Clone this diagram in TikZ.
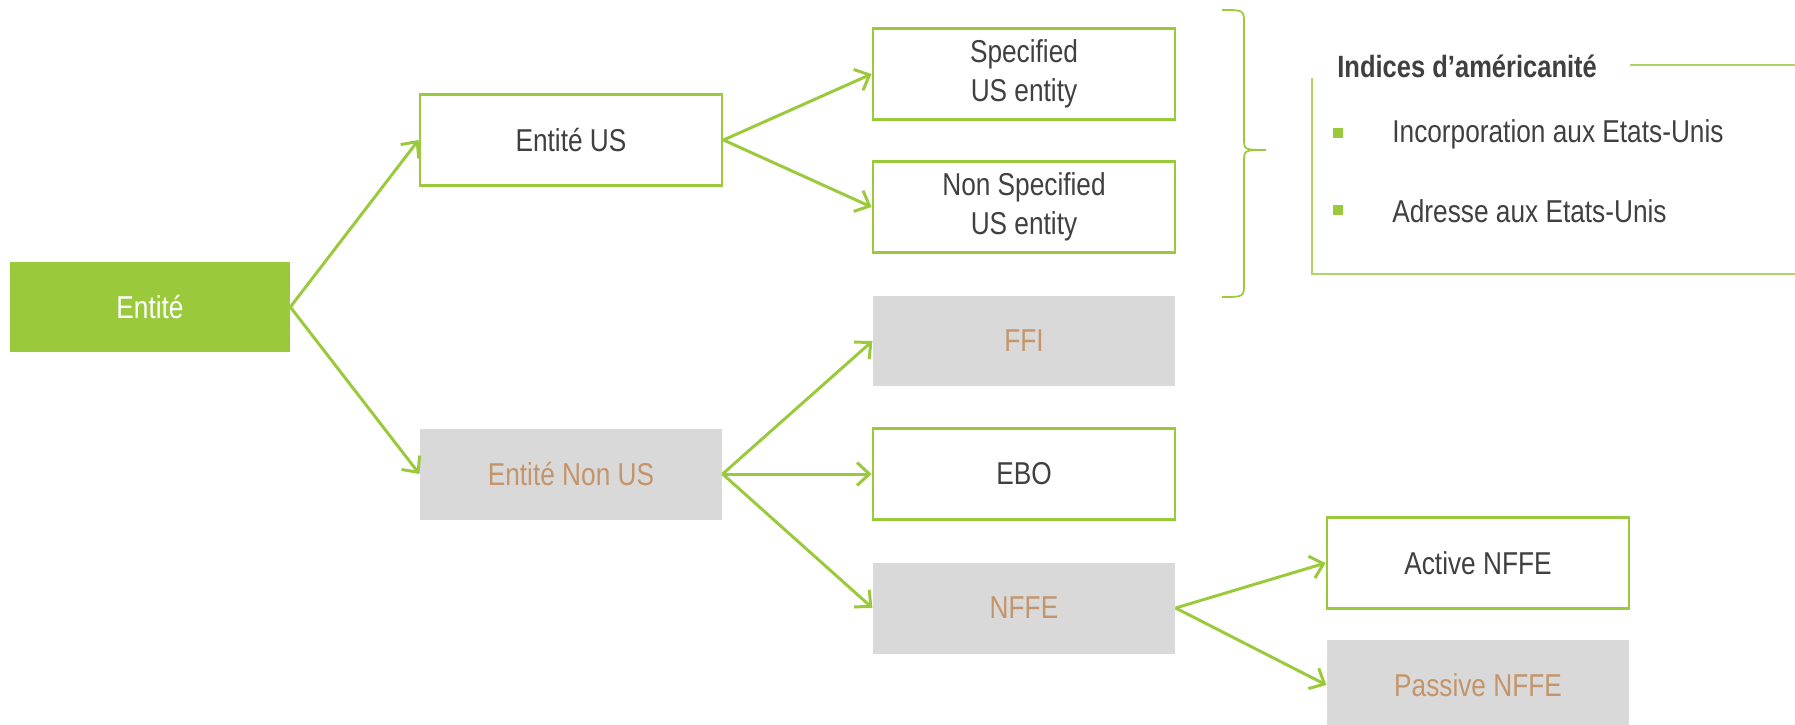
\documentclass[tikz,border=0pt]{standalone}
\usepackage{fontspec}
\setmainfont{Liberation Sans}[FakeStretch=0.83]
\usetikzlibrary{arrows.meta}
\definecolor{leaf}{HTML}{9ACA3C}
\definecolor{pale}{HTML}{D9D9D9}
\definecolor{tan}{HTML}{C4956A}
\definecolor{ink}{HTML}{404040}

\begin{document}
\begin{tikzpicture}[x=0.02cm, y=-0.02cm,
  every node/.style={minimum width=6.05cm, minimum height=1.82cm, inner sep=0pt, align=center, font=\fontsize{18}{22}\selectfont},
  open/.style={draw=leaf, line width=1.4pt, fill=white, text=ink},
  shaded/.style={fill=pale, text=tan},
  plain/.style={minimum width=0pt, minimum height=0pt, text=ink, anchor=west},
  link/.style={draw=leaf, line width=1.7pt, -{Straight Barb[length=7pt,width=13pt]}}]
  \useasboundingbox (0,0) rectangle (1795,724);
  \node[fill=leaf, text=white, minimum width=5.6cm] (ent) at (150,307) {Entité};
  \node[open] (entus) at (571,140) {Entité US};
  \node[shaded] (entnon) at (571,474) {Entité Non US};
  \node[open] (spec) at (1024,74) {Specified\\US entity};
  \node[open] (nonspec) at (1024,207) {Non Specified\\US entity};
  \node[shaded] (ffi) at (1024,341) {FFI};
  \node[open] (ebo) at (1024,474) {EBO};
  \node[shaded] (nffe) at (1024,608) {NFFE};
  \node[open] (active) at (1478,563) {Active NFFE};
  \node[shaded] (passive) at (1478,685) {Passive NFFE};
  \draw[link] (ent.east) -- (entus.west);
  \draw[link] (ent.east) -- (entnon.west);
  \draw[link] (entus.east) -- (spec.west);
  \draw[link] (entus.east) -- (nonspec.west);
  \draw[link] (entnon.east) -- (ffi.west);
  \draw[link] (entnon.east) -- (ebo.west);
  \draw[link] (entnon.east) -- (nffe.west);
  \draw[link] (nffe.east) -- (active.west);
  \draw[link] (nffe.east) -- (passive.west);
  % brace and legend
  \draw[leaf, line width=1pt] (1222,10) .. controls (1244,10) .. (1244,24) -- (1244,138)
    .. controls (1244,150) .. (1266,150) .. controls (1244,150) .. (1244,162) -- (1244,283)
    .. controls (1244,297) .. (1222,297);
  \draw[leaf!80!white, line width=1pt] (1312,78) -- (1312,274) -- (1795,274);
  \draw[leaf!80!white, line width=1pt] (1630,65) -- (1795,65);
  \node[plain, font=\fontsize{17.5}{20}\selectfont\bfseries] (title) at (1337,66) {Indices d’américanité};
  \node[plain] (inc) at (1392,134) {Incorporation aux Etats-Unis};
  \node[plain] (adr) at (1392,211) {Adresse aux Etats-Unis};
  \fill[leaf] (1333,128) rectangle (1343,138);
  \fill[leaf] (1333,205) rectangle (1343,215);
\end{tikzpicture}
\end{document}
